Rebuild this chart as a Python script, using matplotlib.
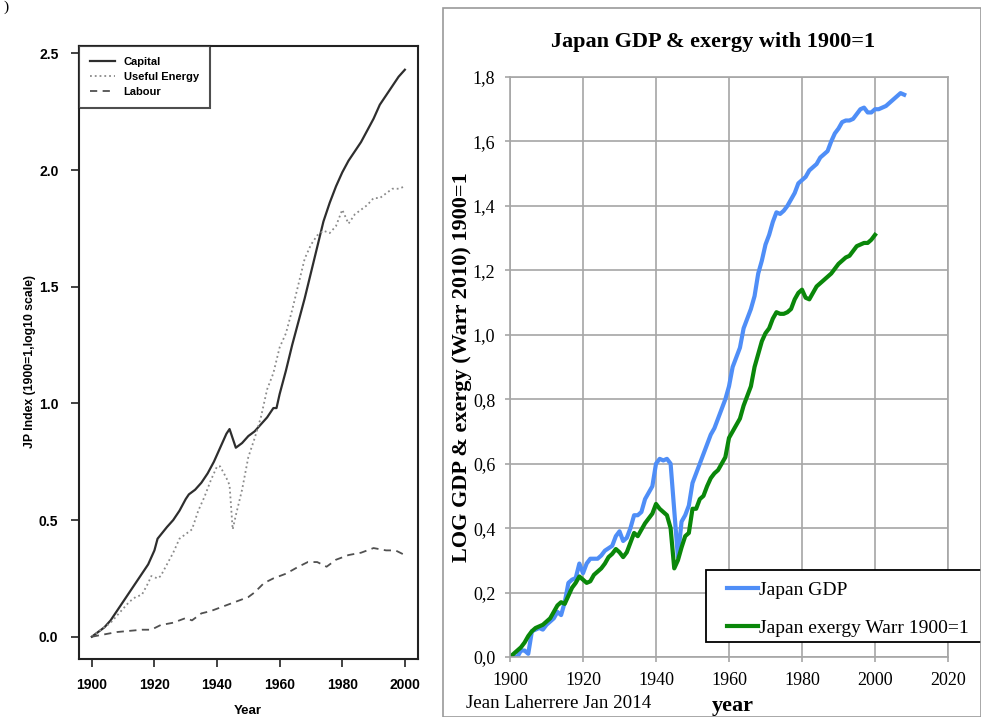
import matplotlib
matplotlib.use("Agg")
import matplotlib.pyplot as plt
from matplotlib.patches import Rectangle
from matplotlib.ticker import FuncFormatter

# left panel: JP index (1900=1, log10 scale)
cap_years = [1900, 1902, 1904, 1906, 1908, 1910, 1912, 1914, 1916, 1918, 1920, 1921, 1924, 1926,
             1928, 1930, 1931, 1933, 1935, 1937, 1939, 1941, 1943, 1944, 1946, 1948, 1950, 1952,
             1954, 1956, 1958, 1959, 1960, 1962, 1964, 1966, 1968, 1970, 1972, 1974, 1976, 1978,
             1980, 1982, 1984, 1986, 1988, 1990, 1992, 1994, 1996, 1998, 2000]
capital = [0.0, 0.02, 0.04, 0.07, 0.11, 0.15, 0.19, 0.23, 0.27, 0.31, 0.37, 0.42, 0.47, 0.50,
           0.54, 0.59, 0.61, 0.63, 0.66, 0.70, 0.75, 0.81, 0.87, 0.89, 0.81, 0.83, 0.86, 0.88,
           0.91, 0.94, 0.98, 0.98, 1.04, 1.14, 1.25, 1.35, 1.45, 1.56, 1.67, 1.78, 1.86, 1.93,
           1.99, 2.04, 2.08, 2.12, 2.17, 2.22, 2.28, 2.32, 2.36, 2.40, 2.43]

ue_years = [1900, 1902, 1904, 1906, 1908, 1910, 1912, 1914, 1916, 1918, 1919, 1921, 1922, 1924,
            1926, 1928, 1930, 1932, 1934, 1936, 1938, 1940, 1941, 1943, 1944, 1945, 1946, 1948,
            1950, 1952, 1954, 1956, 1958, 1960, 1962, 1964, 1966, 1968, 1970, 1972, 1974, 1976,
            1978, 1980, 1981, 1982, 1984, 1986, 1988, 1990, 1992, 1994, 1996, 1998, 2000]
useful_energy = [0.0, 0.02, 0.04, 0.06, 0.09, 0.12, 0.15, 0.17, 0.18, 0.23, 0.26, 0.25, 0.26, 0.31,
                 0.36, 0.42, 0.44, 0.46, 0.54, 0.60, 0.67, 0.73, 0.73, 0.68, 0.65, 0.46, 0.52, 0.63,
                 0.77, 0.85, 0.94, 1.06, 1.13, 1.24, 1.30, 1.40, 1.51, 1.62, 1.68, 1.72, 1.74, 1.73,
                 1.76, 1.83, 1.80, 1.77, 1.81, 1.83, 1.85, 1.88, 1.88, 1.90, 1.92, 1.92, 1.93]

lab_years = [1900, 1904, 1908, 1912, 1916, 1919, 1922, 1926, 1930, 1932, 1935, 1938, 1942, 1946,
             1950, 1952, 1955, 1958, 1962, 1966, 1969, 1972, 1975, 1978, 1982, 1986, 1990, 1994,
             1997, 2000]
labour = [0.0, 0.01, 0.02, 0.025, 0.03, 0.03, 0.05, 0.06, 0.08, 0.07, 0.10, 0.11, 0.13, 0.15,
          0.17, 0.19, 0.23, 0.25, 0.27, 0.30, 0.32, 0.32, 0.30, 0.33, 0.35, 0.36, 0.38, 0.37,
          0.37, 0.35]

# right panel: Japan GDP & exergy, log, 1900=1
gdp_years = [1900, 1902, 1903, 1904, 1905, 1906, 1908, 1909, 1910, 1912, 1913, 1914, 1915, 1916,
             1917, 1918, 1919, 1920, 1921, 1922, 1924, 1925, 1926, 1928, 1929, 1930, 1931, 1932,
             1933, 1934, 1935, 1936, 1937, 1938, 1939, 1940, 1941, 1942, 1943, 1944, 1946, 1947,
             1948, 1949, 1950, 1951, 1952, 1953, 1954, 1955, 1956, 1957, 1958, 1959, 1960, 1961,
             1962, 1963, 1964, 1965, 1966, 1967, 1968, 1969, 1970, 1971, 1972, 1973, 1974, 1975,
             1976, 1977, 1978, 1979, 1980, 1981, 1982, 1983, 1984, 1985, 1986, 1987, 1988, 1989,
             1990, 1991, 1992, 1993, 1994, 1995, 1996, 1997, 1998, 1999, 2000, 2001, 2002, 2003,
             2004, 2005, 2006, 2007, 2008]
gdp = [0.0, 0.0, 0.02, 0.02, 0.01, 0.08, 0.09, 0.085, 0.10, 0.12, 0.14, 0.13, 0.17, 0.23,
       0.24, 0.245, 0.29, 0.26, 0.29, 0.305, 0.305, 0.315, 0.33, 0.345, 0.375, 0.39, 0.36, 0.37,
       0.40, 0.44, 0.44, 0.45, 0.49, 0.51, 0.53, 0.60, 0.615, 0.61, 0.615, 0.60, 0.31, 0.42,
       0.44, 0.47, 0.54, 0.57, 0.60, 0.63, 0.66, 0.69, 0.71, 0.74, 0.77, 0.80, 0.84, 0.90,
       0.93, 0.96, 1.02, 1.05, 1.08, 1.12, 1.19, 1.23, 1.28, 1.31, 1.35, 1.38, 1.375, 1.385,
       1.40, 1.42, 1.44, 1.47, 1.48, 1.49, 1.51, 1.52, 1.53, 1.55, 1.56, 1.57, 1.60, 1.625,
       1.64, 1.66, 1.665, 1.665, 1.67, 1.685, 1.70, 1.705, 1.69, 1.69, 1.70, 1.70, 1.705, 1.71,
       1.72, 1.73, 1.74, 1.75, 1.745]

ex_years = list(range(1900, 2001))
exergy = [0.0, 0.01, 0.02, 0.03, 0.045, 0.065, 0.08, 0.09, 0.095, 0.10,
          0.11, 0.12, 0.14, 0.16, 0.17, 0.165, 0.19, 0.215, 0.23, 0.25,
          0.24, 0.23, 0.235, 0.255, 0.265, 0.275, 0.29, 0.31, 0.32, 0.335,
          0.325, 0.31, 0.325, 0.355, 0.385, 0.375, 0.395, 0.415, 0.43, 0.445,
          0.475, 0.46, 0.45, 0.44, 0.40, 0.275, 0.30, 0.34, 0.375, 0.385,
          0.46, 0.46, 0.49, 0.50, 0.53, 0.555, 0.57, 0.58, 0.60, 0.62,
          0.68, 0.70, 0.72, 0.74, 0.78, 0.81, 0.84, 0.90, 0.94, 0.98,
          1.005, 1.02, 1.05, 1.07, 1.065, 1.065, 1.07, 1.08, 1.11, 1.13,
          1.14, 1.115, 1.11, 1.13, 1.15, 1.16, 1.17, 1.18, 1.19, 1.205,
          1.22, 1.23, 1.24, 1.245, 1.26, 1.275, 1.28, 1.285, 1.285, 1.295,
          1.31]

serif = "Liberation Serif"
sans = "Liberation Sans"
W, H = 981, 717

fig = plt.figure(figsize=(9.81, 7.17), dpi=100)

# ---- left panel (R style)
ax1 = fig.add_axes([79.3 / W, 1 - 659 / H, (418 - 79.3) / W, (659 - 45.7) / H])
ax1.plot(cap_years, capital, color="#2e2e2e", lw=1.6, ls="-", label="Capital")
ax1.plot(ue_years, useful_energy, color="#8a8a8a", lw=1.3, ls=":", label="Useful Energy")
ax1.plot(lab_years, labour, color="#505050", lw=1.3, ls=(0, (4, 3)), label="Labour")
ax1.set_xlim(1896.0, 2004.2)
ax1.set_ylim(-0.0955, 2.533)
ax1.set_xticks([1900, 1920, 1940, 1960, 1980, 2000])
ax1.set_yticks([0.0, 0.5, 1.0, 1.5, 2.0, 2.5])
ax1.yaxis.set_major_formatter(FuncFormatter(lambda v, p: "%.1f" % v))
for lbl in ax1.get_xticklabels() + ax1.get_yticklabels():
    lbl.set_fontweight("bold")
    lbl.set_family(sans)
ax1.tick_params(axis="y", direction="out", length=6, width=1.2, pad=9, labelsize=10, color="#222222")
ax1.tick_params(axis="x", direction="out", length=6, width=1.2, pad=8, labelsize=10, color="#222222")
for sp in ax1.spines.values():
    sp.set_color("#222222")
    sp.set_linewidth(1.5)
fig.text(30 / W, 1 - 361 / H, "JP Index (1900=1,log10 scale)", family=sans, fontsize=8.8,
         fontweight="bold", rotation=90, ha="center", va="center")
fig.text(248 / W, 1 - 711 / H, "Year", family=sans, fontsize=9.5, fontweight="bold",
         ha="center", va="center")
leg1 = ax1.legend(loc="upper left", bbox_to_anchor=(0, 1), borderaxespad=0, fancybox=False,
                  prop={"size": 8, "weight": "bold", "family": sans}, handlelength=2.2,
                  handletextpad=0.8, labelspacing=0.45, borderpad=1.0)
leg1.get_frame().set_edgecolor("#222222")
leg1.get_frame().set_linewidth(1.5)
fig.text(0.004, 0.999, ")", fontsize=11, family=serif, va="top", ha="left")

# ---- right panel (Excel style)
fig.patches.append(Rectangle((443 / W, 0), 1 - 443 / W, 1 - 8 / H, transform=fig.transFigure,
                             fill=False, edgecolor="#9a9a9a", lw=1.2))
ax2 = fig.add_axes([510 / W, 1 - 657 / H, 438 / W, 580 / H])
ax2.plot(gdp_years, gdp, color="#4f8ef7", lw=3, label="Japan GDP")
ax2.plot(ex_years, exergy, color="#0a870a", lw=3, label="Japan exergy Warr 1900=1")
ax2.set_xlim(1900, 2020)
ax2.set_ylim(0, 1.8)
ax2.set_xticks(range(1900, 2021, 20))
ax2.set_yticks([0, 0.2, 0.4, 0.6, 0.8, 1.0, 1.2, 1.4, 1.6, 1.8])
ax2.yaxis.set_major_formatter(FuncFormatter(lambda v, p: ("%.1f" % v).replace(".", ",")))
ax2.grid(True, color="#a6a6a6", lw=1.2)
ax2.set_axisbelow(True)
for sp in ax2.spines.values():
    sp.set_color("#a6a6a6")
    sp.set_linewidth(1.2)
ax2.tick_params(direction="out", length=3.6, width=1.2, pad=7, color="#a6a6a6", labelsize=13)
for lbl in ax2.get_xticklabels() + ax2.get_yticklabels():
    lbl.set_family(serif)
fig.text(713 / W, 1 - 42 / H, "Japan GDP & exergy with 1900=1", family=serif, fontsize=16,
         fontweight="bold", ha="center", va="center")
fig.text(462 / W, 1 - 367 / H, "LOG GDP & exergy (Warr 2010) 1900=1", family=serif,
         fontsize=16, fontweight="bold", rotation=90, ha="center", va="center")
fig.text(733 / W, 0.002, "year", family=serif, fontsize=16, fontweight="bold",
         ha="center", va="bottom")
fig.text(466 / W, 1 - 704 / H, "Jean Laherrere Jan 2014", family=serif, fontsize=13.7,
         va="center", ha="left")

# legend frame (runs past the right edge as in the original)
ax2.add_patch(Rectangle((706 / W, 1 - 642 / H), 300 / W, 72 / H, transform=fig.transFigure,
                        clip_on=False, facecolor="white", edgecolor="black", lw=1.3, zorder=4))
leg2 = ax2.legend(loc="upper left", bbox_to_anchor=(727 / W, 1 - 581 / H),
                  bbox_transform=fig.transFigure, frameon=False,
                  prop={"family": serif, "size": 14}, handlelength=1.6, handletextpad=0.05,
                  labelspacing=1.08, borderpad=0, borderaxespad=0)
leg2.set_zorder(5)

fig.savefig("out.png", dpi=100)
